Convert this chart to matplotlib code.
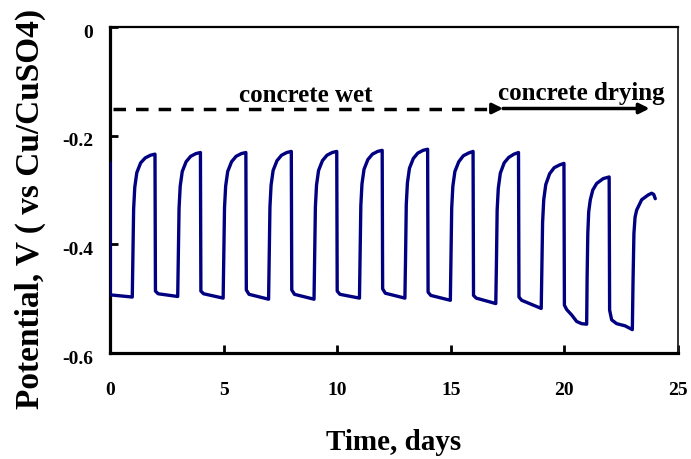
import matplotlib
matplotlib.use("Agg")
import matplotlib.pyplot as plt
from matplotlib.transforms import ScaledTranslation

# ---- data ----
days = [
    0.00, 0.01, 0.50, 0.98,
    1.01, 1.04, 1.09, 1.18, 1.35, 1.55, 1.78, 1.98,
    2.00, 2.12, 2.98,
    3.01, 3.04, 3.09, 3.18, 3.35, 3.55, 3.78, 3.98,
    4.00, 4.12, 4.98,
    5.01, 5.04, 5.09, 5.18, 5.35, 5.55, 5.78, 5.98,
    6.00, 6.12, 6.98,
    7.01, 7.04, 7.09, 7.18, 7.35, 7.55, 7.78, 7.98,
    8.00, 8.12, 8.98,
    9.01, 9.04, 9.09, 9.18, 9.35, 9.55, 9.78, 9.98,
    10.00, 10.12, 10.98,
    11.01, 11.04, 11.09, 11.18, 11.35, 11.55, 11.78, 11.98,
    12.00, 12.12, 12.98,
    13.01, 13.04, 13.09, 13.18, 13.35, 13.55, 13.78, 13.98,
    14.00, 14.12, 14.98,
    15.01, 15.04, 15.09, 15.18, 15.35, 15.55, 15.78, 15.98,
    16.00, 16.12, 16.98,
    17.01, 17.04, 17.09, 17.18, 17.35, 17.55, 17.78, 17.98,
    18.00, 18.12, 18.98,
    19.01, 19.04, 19.09, 19.18, 19.35, 19.55, 19.78, 19.98,
    20.00, 20.10, 20.32, 20.54, 20.76, 20.98,
    21.00, 21.03, 21.07, 21.14, 21.25, 21.42, 21.71, 21.97,
    21.99, 22.08, 22.30, 22.67, 22.99,
    23.02, 23.06, 23.11, 23.18, 23.40, 23.69, 23.84, 23.93, 24.00,
]
potential = [
    -0.250, -0.493, -0.495, -0.497,
    -0.420, -0.335, -0.295, -0.268, -0.250, -0.241, -0.236, -0.234,
    -0.486, -0.491, -0.496,
    -0.420, -0.333, -0.293, -0.266, -0.248, -0.238, -0.233, -0.231,
    -0.486, -0.491, -0.499,
    -0.420, -0.333, -0.293, -0.266, -0.248, -0.238, -0.233, -0.231,
    -0.484, -0.492, -0.501,
    -0.420, -0.331, -0.291, -0.264, -0.246, -0.236, -0.231, -0.229,
    -0.484, -0.492, -0.501,
    -0.420, -0.331, -0.291, -0.264, -0.246, -0.236, -0.231, -0.229,
    -0.486, -0.492, -0.499,
    -0.420, -0.329, -0.289, -0.262, -0.244, -0.234, -0.229, -0.227,
    -0.482, -0.490, -0.499,
    -0.420, -0.327, -0.287, -0.260, -0.242, -0.232, -0.227, -0.225,
    -0.488, -0.494, -0.503,
    -0.420, -0.333, -0.293, -0.266, -0.248, -0.237, -0.232, -0.229,
    -0.494, -0.499, -0.509,
    -0.430, -0.337, -0.297, -0.269, -0.250, -0.240, -0.234, -0.231,
    -0.497, -0.503, -0.518,
    -0.440, -0.360, -0.318, -0.290, -0.270, -0.259, -0.254, -0.251,
    -0.512, -0.520, -0.530, -0.542, -0.546, -0.547,
    -0.460, -0.380, -0.340, -0.318, -0.300, -0.288, -0.279, -0.276,
    -0.521, -0.539, -0.546, -0.550, -0.557,
    -0.470, -0.380, -0.350, -0.337, -0.318, -0.309, -0.306, -0.308, -0.316,
]

x_ticks = [0, 5, 10, 15, 20, 25]
y_ticks = [-0.6, -0.4, -0.2, 0]
y_tick_labels = ["-0.6", "-0.4", "-0.2", "0"]

wet_label = "concrete wet"
dry_label = "concrete drying"
wet_span = (0.15, 17.3)
dry_span = (17.3, 23.75)
phase_level = -0.15

plt.rcParams["font.family"] = ["Liberation Serif", "DejaVu Serif"]
plt.rcParams["font.weight"] = "bold"

fig = plt.figure(figsize=(6.91, 4.59), dpi=100)
ax = fig.add_axes([110 / 691, 1 - 353 / 459, (678 - 110) / 691, (353 - 27) / 459])

ax.plot(days, potential, color="#000080", lw=2.4, solid_joinstyle="round",
        solid_capstyle="round", zorder=3)

ax.set_xlim(0, 25)
ax.set_ylim(-0.6, 0)
ax.set_xticks(x_ticks)
ax.set_xticklabels([str(t) for t in x_ticks])
ax.set_yticks(y_ticks)
ax.set_yticklabels(y_tick_labels)

for side in ("left", "bottom"):
    ax.spines[side].set_linewidth(2.3)
    ax.spines[side].set_color("black")
ax.spines["top"].set_linewidth(1.6)
ax.spines["right"].set_linewidth(1.3)
ax.spines["right"].set_color("#222222")

ax.tick_params(axis="x", direction="in", length=6, width=2, pad=21, labelsize=14)
ax.tick_params(axis="y", direction="in", length=6, width=2, pad=12, labelsize=14)
for lab in ax.get_xticklabels() + ax.get_yticklabels():
    lab.set_fontweight("bold")
for lab in ax.get_yticklabels():
    lab.set_transform(lab.get_transform() + ScaledTranslation(0, -4 / 100, fig.dpi_scale_trans))

# phase annotations
ax.plot([wet_span[0], wet_span[1] - 0.35], [phase_level, phase_level], color="black",
        lw=2.5, linestyle=(0, (3.6, 2.9)), zorder=2)
ax.annotate("", xy=(wet_span[1], phase_level), xytext=(wet_span[1] - 0.5, phase_level),
            arrowprops=dict(arrowstyle="-|>,head_length=0.6,head_width=0.3", lw=2.5,
                            color="black", shrinkA=0, shrinkB=0))
ax.annotate("", xy=(dry_span[1], phase_level), xytext=(dry_span[0], phase_level),
            arrowprops=dict(arrowstyle="-|>,head_length=0.6,head_width=0.3", lw=2.5,
                            color="black", shrinkA=0, shrinkB=0))
ax.text(8.6, -0.1375, wet_label, ha="center", va="baseline", fontsize=18, fontweight="bold")
ax.text(20.76, -0.1345, dry_label, ha="center", va="baseline", fontsize=18, fontweight="bold")

fig.text(394 / 691, 1 - 443 / 459, "Time, days", ha="center", va="center",
         fontsize=21, fontweight="bold")
fig.text(30 / 691, 1 - 209 / 459, "Potential, V ( vs Cu/CuSO4)", ha="center", va="center",
         rotation=90, fontsize=24, fontweight="bold")

fig.savefig("out.png", dpi=100)
